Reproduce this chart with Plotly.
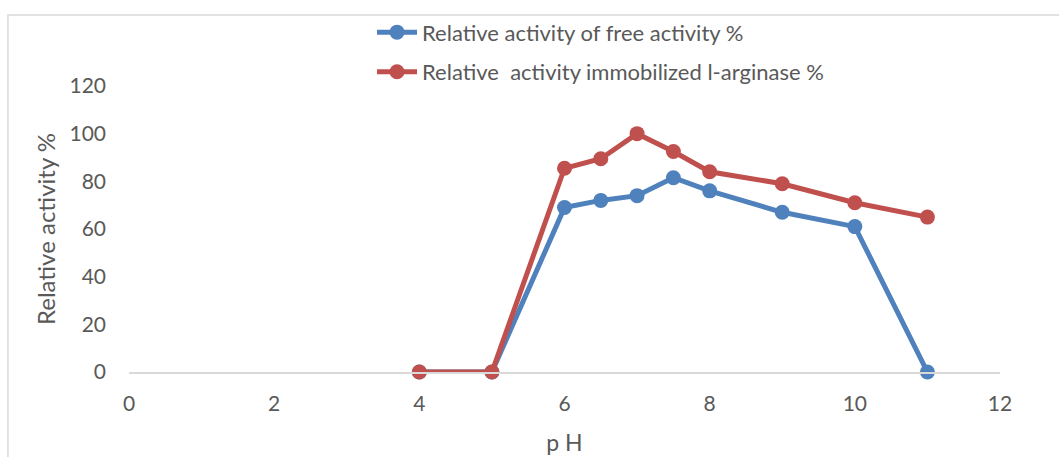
import plotly.graph_objects as go

ph = [4, 5, 6, 6.5, 7, 7.5, 8, 9, 10, 11]
free_activity = [0, 0, 69, 72, 74, 81.5, 76, 67, 61, 0]
immobilized_activity = [0, 0, 85.5, 89.5, 100, 92.5, 84, 79, 71, 65]

x_ticks = [0, 2, 4, 6, 8, 10, 12]
y_ticks = [0, 20, 40, 60, 80, 100, 120]

blue = "#4F81BD"
red = "#C0504D"
txt = "#595959"
font_family = "Lato, 'Open Sans', sans-serif"

fig = go.Figure()
fig.add_trace(go.Scatter(
    x=ph, y=free_activity, mode="lines+markers",
    name="Relative activity of free activity %",
    legendgroup="a",
    line=dict(color=blue, width=5),
    marker=dict(color=blue, size=15),
    cliponaxis=False,
))
fig.add_trace(go.Scatter(
    x=ph, y=immobilized_activity, mode="lines+markers",
    name="Relative  activity immobilized l-arginase %",
    legendgroup="b",
    line=dict(color=red, width=5),
    marker=dict(color=red, size=15),
    cliponaxis=False,
))

fig.update_layout(
    width=1059, height=457,
    margin=dict(l=129, r=59, t=86, b=85, autoexpand=False),
    plot_bgcolor="white", paper_bgcolor="white",
    font=dict(family=font_family, color=txt, size=21),
    showlegend=True,
    legend=dict(
        x=0.279, y=1.261, xanchor="left", yanchor="top",
        font=dict(size=22, color=txt),
        bgcolor="rgba(0,0,0,0)",
        tracegroupgap=8,
        itemwidth=40,
    ),
    shapes=[dict(
        type="rect", xref="paper", yref="paper",
        x0=-0.139, x1=1.2, y0=-0.5, y1=1.2485,
        line=dict(color="#D9D9D9", width=1.5),
        fillcolor="rgba(0,0,0,0)", layer="below",
    )],
)

fig.update_xaxes(
    range=[0, 12], tickvals=x_ticks, ticktext=[str(v) for v in x_ticks],
    showgrid=False, zeroline=False, automargin=False,
    showline=True, linecolor="#D9D9D9", linewidth=2,
    ticks="", ticklabelstandoff=12,
    tickfont=dict(size=21, color=txt),
    title=dict(text="p H", font=dict(size=23, color=txt), standoff=21),
)
fig.update_yaxes(
    range=[0, 120], tickvals=y_ticks, ticktext=[str(v) for v in y_ticks],
    showgrid=False, zeroline=False, showline=False, automargin=False,
    ticks="", ticklabelstandoff=22,
    tickfont=dict(size=21, color=txt),
    title=dict(text="Relative activity %", font=dict(size=24, color=txt), standoff=7),
)

fig.write_html("out.html")
